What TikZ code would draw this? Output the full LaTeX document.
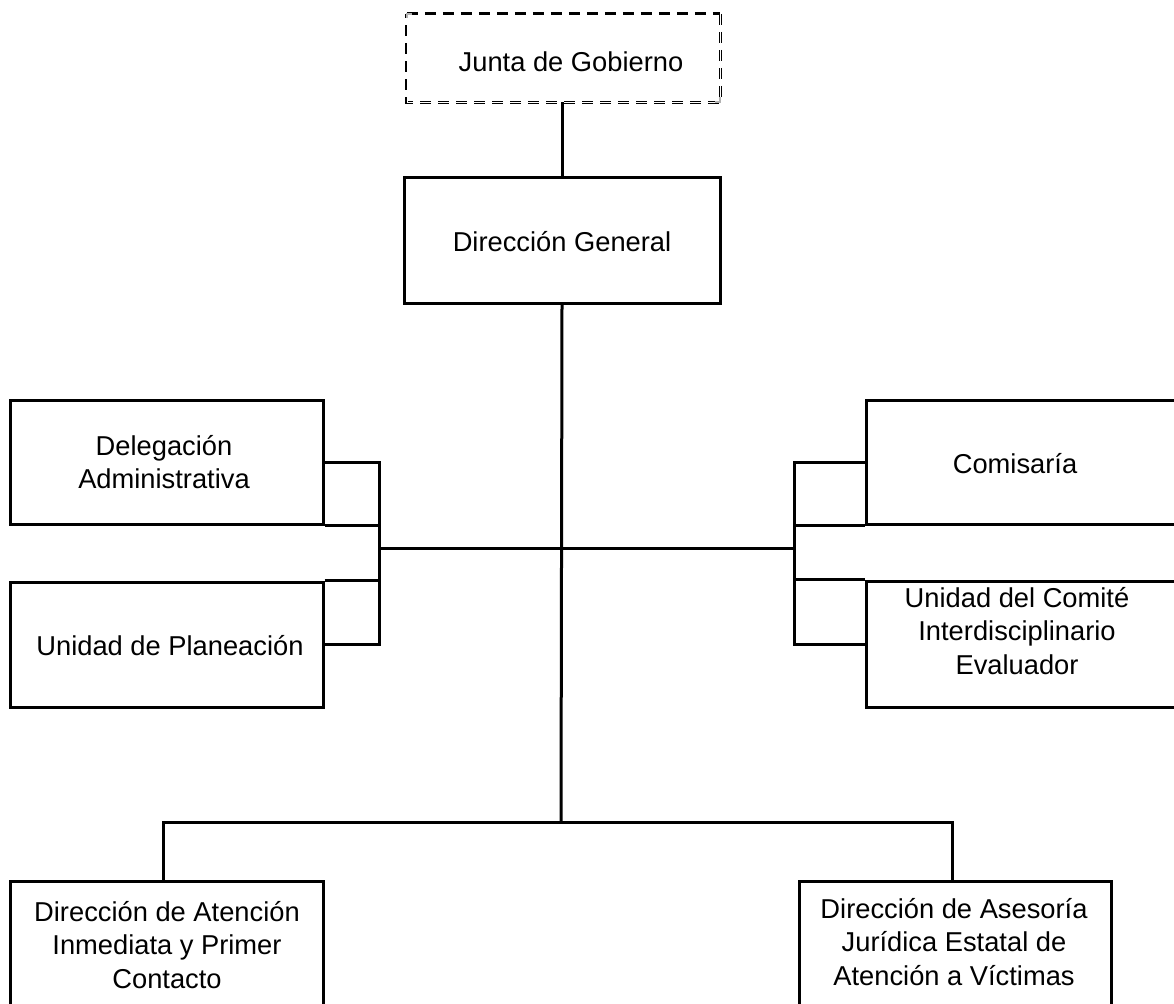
\documentclass[tikz,border=0pt]{standalone}
\usepackage{fontspec}
\setmainfont{Liberation Sans}
\begin{document}
\begin{tikzpicture}[x=1pt,y=-1pt,
  orgbox/.style={draw, line width=3pt, inner sep=0pt, minimum width=313pt, minimum height=124pt},
  txt/.style={font=\fontsize{27.3pt}{33.5pt}\selectfont, align=center, inner sep=0pt},
  conn/.style={line width=3pt},
  dashtop/.style={line width=3pt, dash pattern=on 11pt off 7pt},
  dashdbl/.style={line width=1.3pt, double, double distance=0.6pt, dash pattern=on 11pt off 7pt}]
\useasboundingbox (0,0) rectangle (1174,1003);
\clip (0,0) rectangle (1174,1003);

% boxes
\node[inner sep=0pt, minimum width=313pt, minimum height=88pt] (jg) at (563.5,58) {};
\node[orgbox, minimum width=316pt, minimum height=125pt] (dg) at (562,240.5) {};
\node[orgbox] (del) at (166.5,462) {};
\node[orgbox, minimum height=125pt] (pla) at (166.5,644.5) {};
\node[orgbox, minimum width=324pt] (com) at (1028,462) {};
\node[orgbox, minimum width=324pt, minimum height=126pt] (uci) at (1028,644) {};
\node[orgbox, minimum height=149pt] (dai) at (166.5,955.5) {};
\node[orgbox, minimum width=312pt, minimum height=149pt] (das) at (955,955.5) {};

% dashed frame of the top box
\draw[dashtop] (jg.north west) -- (jg.north east);
\draw[dashdbl] (jg.north east) -- (jg.south east) -- (jg.south west) -- (jg.north west);
\draw[gray!60, line width=1.5pt] (407,18) -- (407,14) -- (412,14);
\draw[gray!60, line width=1.5pt] (715,102) -- (720,102) -- (720,97);

% texts
\node[txt] (tjg) at (571,62) {Junta de Gobierno};
\node[txt] (tdg) at (562,242) {Dirección General};
\node[txt] (tdel) at (164,462) {Delegación\\Administrativa};
\node[txt] (tpla) at (170,646) {Unidad de Planeación};
\node[txt] (tcom) at (1015,464) {Comisaría};
\node[txt] (tuci) at (1017,631) {Unidad del Comité\\Interdisciplinario\\Evaluador};
\node[txt] (tdai) at (167,945) {Dirección de Atención\\Inmediata y Primer\\Contacto};
\node[txt] (tdas) at (954,942) {Dirección de Asesoría\\Jurídica Estatal de\\Atención a Víctimas};

% connector points
\coordinate (lj) at (379,548);
\coordinate (rj) at (794,548);
\coordinate (bot) at (561,822);

% connectors
\draw[conn] (dg.north |- jg.south) -- (dg.north);
\draw[conn] (dg.south) -- (bot);
\draw[conn] (lj) -- (rj);
\draw[conn] (del.east) -| (lj) |- (pla.east);
\draw[conn] (del.south east) -- (del.south east -| lj);
\draw[conn] (pla.north east) -- (pla.north east -| lj);
\draw[conn] (com.west) -| (rj) |- (uci.west);
\draw[conn] (com.south west) -- (com.south west -| rj);
\draw[conn] (uci.north west) -- (uci.north west -| rj);
\draw[conn] ([xshift=-3.5pt]dai.north) |- (bot) -| ([xshift=-3pt]das.north);
\end{tikzpicture}
\end{document}
